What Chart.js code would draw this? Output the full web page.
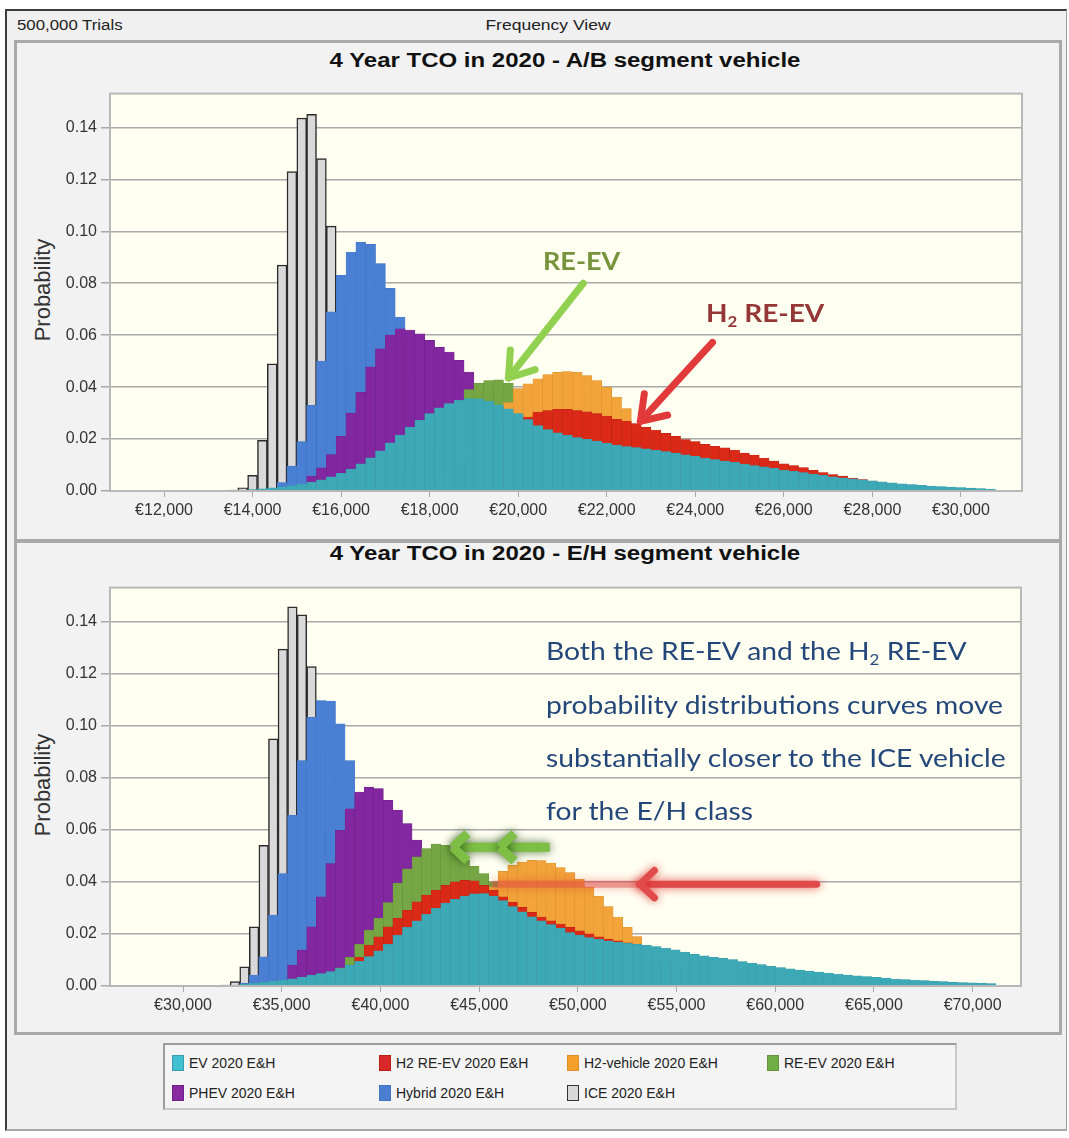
<!DOCTYPE html>
<html>
<head>
<meta charset="utf-8">
<title>4 Year TCO in 2020</title>
<script src="https://cdn.jsdelivr.net/npm/chart.js@4.4.0/dist/chart.umd.min.js"></script>
<style>
  html, body { margin: 0; padding: 0; background: #fff; }
  body { position: relative; width: 1069px; height: 1138px; overflow: hidden; font-family: 'Liberation Sans', Arial, sans-serif; color: #222; }
  .abs { position: absolute; }
  .window { left: 5px; top: 9px; width: 1059px; height: 1118px; background: #f0f0f0; border-left: 2px solid #3c3c3c; border-top: 2px solid #3c3c3c; border-right: 1px solid #a0a0a0; border-bottom: 2px solid #a8a8a8; }
  .panel { left: 14px; top: 40px; width: 1048px; height: 995px; box-sizing: border-box; border: 3px solid #a9a9a9; background: #f2f2f2; }
  .divider { left: 14px; top: 539px; width: 1048px; height: 4px; background: #a9a9a9; }
  .small { font-size: 14px; transform-origin: 0 50%; transform: translateY(-50%) scaleX(1.2); white-space: nowrap; }
  .centre { transform-origin: 50% 50%; transform: translate(-50%, -50%) scaleX(1.25); }
  .title { font-weight: bold; font-size: 20px; transform: translate(-50%, -50%) scaleX(1.2); white-space: nowrap; color: #111; }
  .ytitle { font-size: 22px; color: #333; transform: translate(-50%, -50%) rotate(-90deg); white-space: nowrap; }
  canvas.plot { position: absolute; left: 20px; }
  .note { font-family: Lato, 'Open Sans', sans-serif; font-weight: bold; font-size: 25px; transform-origin: 0 50%; transform: translateY(-50%) scaleX(1.08); white-space: nowrap; }
  .para { font-family: Lato, 'Open Sans', sans-serif; font-size: 25px; color: #24477a; transform-origin: 0 50%; transform: translateY(-50%) scaleX(1.13); white-space: nowrap; }
  sub { font-size: 60%; vertical-align: -0.3em; line-height: 0; }
  .legendbox { left: 163px; top: 1043px; width: 794px; height: 67px; box-sizing: border-box; border: 2px solid #9c9c9c; border-right-color: #c8c8c8; border-bottom-color: #c8c8c8; background: #f4f4f4; }
  #legend { position: absolute; left: 7px; top: 9px; display: grid; grid-template-columns: 207px 188px 200px 180px; row-gap: 12px; }
  #legend .item { display: flex; align-items: center; font-size: 14px; color: #222; white-space: nowrap; height: 18px; }
  #legend .sw { display: inline-block; width: 12px; height: 16px; margin-right: 5px; border: 1px solid; box-sizing: border-box; }
</style>
</head>
<body>
<div class="abs window"></div>
<div class="abs small" style="left:17px;top:25px">500,000 Trials</div>
<div class="abs small centre" style="left:548px;top:25px">Frequency View</div>
<div class="abs panel"></div>
<div class="abs divider"></div>

<div class="abs title" style="left:565px;top:60px">4 Year TCO in 2020 - A/B segment vehicle</div>
<div class="abs title" style="left:565px;top:553px">4 Year TCO in 2020 - E/H segment vehicle</div>
<div class="abs ytitle" style="left:43px;top:290px">Probability</div>
<div class="abs ytitle" style="left:43px;top:785px">Probability</div>

<canvas id="topChart" class="plot" width="1030" height="455" style="top:80px"></canvas>
<canvas id="botChart" class="plot" width="1030" height="455" style="top:574px"></canvas>

<div class="abs note" style="left:543px;top:260px;color:#77933c">RE-EV</div>
<div class="abs note" style="left:706px;top:312px;color:#953735;transform:translateY(-50%) scaleX(1.12)">H<sub>2</sub> RE-EV</div>
<div class="abs para" style="left:546px;top:650px">Both the RE-EV and the H<sub>2</sub> RE-EV</div>
<div class="abs para" style="left:546px;top:704px">probability distributions curves move</div>
<div class="abs para" style="left:546px;top:757px">substantially closer to the ICE vehicle</div>
<div class="abs para" style="left:546px;top:810px">for the E/H class</div>

<div class="abs legendbox"><div id="legend"></div></div>

<script>
// series, front to back (same order as the legend)
const seriesNames = ['EV 2020 E&H', 'H2 RE-EV 2020 E&H', 'H2-vehicle 2020 E&H', 'RE-EV 2020 E&H',
                     'PHEV 2020 E&H', 'Hybrid 2020 E&H', 'ICE 2020 E&H'];

// A/B segment: bins of 2000/9 euro, first bin centred on 13,333
const topFirstBin = 13333.33;
const topBinWidth = 2000 / 9;
const topEV = [0, 0, 0.0002, 0.0005, 0.0008, 0.0012, 0.0016, 0.0021, 0.0027, 0.0034,
  0.0043, 0.0055, 0.0068, 0.0084, 0.0105, 0.0128, 0.0155, 0.0185, 0.0215, 0.0245,
  0.0272, 0.0298, 0.032, 0.0337, 0.0349, 0.0356, 0.0355, 0.0345, 0.0332, 0.0316,
  0.0298, 0.0275, 0.0252, 0.0236, 0.0224, 0.0214, 0.0206, 0.0199, 0.0192, 0.0184,
  0.0177, 0.0171, 0.0167, 0.0162, 0.0157, 0.0152, 0.0146, 0.0139, 0.0133, 0.0127,
  0.0121, 0.0115, 0.011, 0.0104, 0.0098, 0.0093, 0.0087, 0.0081, 0.0076, 0.0071,
  0.0065, 0.006, 0.0055, 0.0051, 0.0047, 0.0043, 0.0039, 0.0035, 0.0031, 0.0028,
  0.0025, 0.0022, 0.0019, 0.0017, 0.0015, 0.0013, 0.0011, 0.0009, 0.0007];
const topH2REEV = [0, 0, 0, 0, 0, 0, 0, 0, 0, 0,
  0, 0, 0, 0, 0, 0, 0, 0, 0, 0.001,
  0.002, 0.003, 0.005, 0.007, 0.009, 0.012, 0.015, 0.018, 0.021, 0.024,
  0.027, 0.0285, 0.0304, 0.031, 0.0314, 0.0314, 0.031, 0.0305, 0.0298, 0.0288,
  0.0276, 0.0268, 0.026, 0.0245, 0.0235, 0.0222, 0.021, 0.0198, 0.019, 0.018,
  0.0172, 0.0166, 0.0158, 0.0146, 0.0138, 0.0127, 0.0115, 0.0105, 0.0098, 0.009,
  0.008, 0.0071, 0.0063, 0.0057, 0.005, 0.0044, 0.0038, 0.003, 0.0025, 0.002,
  0.0015, 0.001, 0.0007];
const topH2 = [0, 0, 0, 0, 0, 0, 0, 0, 0, 0,
  0, 0, 0, 0, 0, 0, 0, 0, 0, 0,
  0, 0.003, 0.005, 0.008, 0.011, 0.015, 0.019, 0.024, 0.029, 0.034,
  0.0394, 0.0413, 0.0432, 0.0448, 0.0457, 0.046, 0.0457, 0.0444, 0.0425, 0.040,
  0.0362, 0.0317, 0.025, 0.02, 0.015, 0.010, 0.006, 0.003, 0.001];
const topREEV = [0, 0, 0, 0, 0, 0, 0, 0, 0, 0,
  0, 0, 0, 0, 0, 0, 0, 0.002, 0.004, 0.007,
  0.011, 0.016, 0.022, 0.028, 0.034, 0.039, 0.0415, 0.0425, 0.0428, 0.0415,
  0.037, 0.033, 0.028, 0.023, 0.018, 0.013, 0.009, 0.006, 0.004, 0.002,
  0.001];
const topPHEV = [0, 0, 0, 0, 0, 0, 0, 0, 0.0015, 0.0057,
  0.0089, 0.014, 0.021, 0.030, 0.038, 0.0478, 0.0547, 0.060, 0.0624, 0.062,
  0.0605, 0.058, 0.0554, 0.0535, 0.0503, 0.0458, 0.0413, 0.037, 0.033, 0.029,
  0.025, 0.021, 0.018, 0.015, 0.012, 0.010, 0.008, 0.006, 0.005, 0.004,
  0.003, 0.002, 0.001];
const topHybrid = [0, 0, 0, 0, 0, 0.001, 0.0032, 0.0096, 0.019, 0.033,
  0.050, 0.069, 0.083, 0.092, 0.0957, 0.095, 0.0876, 0.078, 0.067, 0.056,
  0.045, 0.035, 0.026, 0.019, 0.013, 0.008, 0.005, 0.003, 0.0015, 0.0008];
const topICE = [0, 0.0004, 0.0012, 0.006, 0.0195, 0.049, 0.087, 0.123, 0.1436, 0.145,
  0.128, 0.102, 0.073, 0.047, 0.027, 0.014, 0.006, 0.002, 0.001];

// E/H segment: bins of 485 euro, first bin centred on 32,145
const botFirstBin = 32145;
const botBinWidth = 485;
const botEV = [0, 0.0003, 0.0006, 0.001, 0.0014, 0.0018, 0.0023, 0.0028, 0.0034, 0.0041,
  0.0048, 0.0055, 0.0067, 0.008, 0.0095, 0.0113, 0.0135, 0.016, 0.0195, 0.0225,
  0.025, 0.0275, 0.0298, 0.0318, 0.0333, 0.0345, 0.0354, 0.0355, 0.0345, 0.0328,
  0.0305, 0.0285, 0.0266, 0.025, 0.0236, 0.0222, 0.0205, 0.0195, 0.0186, 0.0179,
  0.0173, 0.0168, 0.0164, 0.016, 0.0156, 0.0151, 0.0146, 0.0139, 0.013, 0.0122,
  0.0116, 0.0111, 0.0106, 0.0101, 0.0094, 0.0088, 0.0082, 0.0076, 0.0071, 0.0066,
  0.0061, 0.0057, 0.0053, 0.005, 0.0046, 0.0042, 0.0039, 0.0036, 0.0033, 0.003,
  0.0027, 0.0025, 0.0023, 0.0021, 0.0019, 0.0017, 0.0015, 0.0013, 0.0012, 0.001,
  0.0009];
const botH2REEV = [0, 0, 0, 0, 0, 0, 0, 0, 0, 0,
  0, 0.002, 0.0035, 0.006, 0.011, 0.0157, 0.0189, 0.0227, 0.026, 0.0291,
  0.0323, 0.0349, 0.0368, 0.0387, 0.040, 0.0406, 0.0404, 0.0387, 0.0368, 0.0342,
  0.0322, 0.0302, 0.0283, 0.0265, 0.025, 0.0238, 0.0225, 0.0212, 0.02, 0.0189,
  0.018, 0.0173, 0.0166, 0.0152, 0.013, 0.011, 0.009, 0.007, 0.005, 0.003,
  0.002, 0.001];
const botH2 = [0, 0, 0, 0, 0, 0, 0, 0, 0, 0,
  0, 0, 0, 0, 0, 0, 0, 0, 0.001, 0.002,
  0.004, 0.006, 0.009, 0.013, 0.017, 0.022, 0.027, 0.032, 0.038, 0.044,
  0.0464, 0.0476, 0.0483, 0.0482, 0.0472, 0.0455, 0.0436, 0.041, 0.038, 0.0345,
  0.0305, 0.0265, 0.0225, 0.019, 0.015, 0.011, 0.008, 0.005, 0.003, 0.0015];
const botREEV = [0, 0, 0, 0, 0, 0, 0, 0, 0, 0.001,
  0.002, 0.004, 0.007, 0.011, 0.016, 0.0215, 0.026, 0.032, 0.0395, 0.045,
  0.0496, 0.0528, 0.0545, 0.054, 0.0521, 0.0483, 0.046, 0.0432, 0.040, 0.036,
  0.031, 0.026, 0.021, 0.016, 0.012, 0.008, 0.005, 0.003, 0.001];
const botPHEV = [0, 0, 0, 0, 0, 0.0003, 0.002, 0.008, 0.0138, 0.0227,
  0.0342, 0.047, 0.0598, 0.068, 0.0745, 0.0764, 0.0758, 0.0713, 0.0675, 0.0624,
  0.056, 0.050, 0.044, 0.038, 0.032, 0.027, 0.022, 0.018, 0.014, 0.011,
  0.008, 0.006, 0.004, 0.003, 0.002, 0.001];
const botHybrid = [0, 0, 0.001, 0.0042, 0.0112, 0.0272, 0.0432, 0.0655, 0.0866, 0.1032,
  0.1096, 0.1094, 0.1007, 0.0866, 0.071, 0.057, 0.044, 0.033, 0.024, 0.016,
  0.010, 0.006, 0.003, 0.001];
const botICE = [0.0004, 0.0017, 0.0074, 0.0227, 0.054, 0.0949, 0.1294, 0.1456, 0.1425, 0.1227,
  0.09, 0.06, 0.035, 0.018, 0.008, 0.003, 0.001];

// axis ticks
const topTicks = [12000, 14000, 16000, 18000, 20000, 22000, 24000, 26000, 28000, 30000];
const botTicks = [30000, 35000, 40000, 45000, 50000, 55000, 60000, 65000, 70000];
const probTicks = [0, 0.02, 0.04, 0.06, 0.08, 0.10, 0.12, 0.14];

// styles
const seriesFill = ['#3da8b6', '#da2a17', '#f2a33a', '#76a744', '#82279f', '#4a80d4', '#d9d9d9'];
const seriesEdge = ['#389eab', '#b82214', '#d98f2b', '#66943a', '#6e2089', '#4373c4', '#2b2b2b'];
const legendFill = ['#40c0d0', '#d9282a', '#f5a02a', '#6fad45', '#8a2aa0', '#4a7fd0', '#d8d8d8'];

function binCentres(first, width, count) {
  const out = [];
  for (let i = 0; i < count; i++) out.push(first + i * width);
  return out;
}

const plotFrame = {
  id: 'plotFrame',
  beforeDraw(chart) {
    const {ctx, chartArea: a} = chart;
    ctx.save();
    ctx.fillStyle = '#fffff2';
    ctx.fillRect(a.left, a.top, a.right - a.left, a.bottom - a.top);
    ctx.restore();
  },
  afterDraw(chart) {
    const {ctx, chartArea: a} = chart;
    ctx.save();
    ctx.strokeStyle = '#b8b8b8';
    ctx.lineWidth = 2;
    ctx.strokeRect(a.left, a.top, a.right - a.left, a.bottom - a.top);
    ctx.restore();
  }
};

// arrows placed in data coordinates (euro, probability)
const arrowPlugin = {
  id: 'arrows',
  afterDatasetsDraw(chart, args, opts) {
    const ctx = chart.ctx, xs = chart.scales.x, ys = chart.scales.y;
    const px = p => [xs.getPixelForValue(p[0]), ys.getPixelForValue(p[1])];
    (opts.items || []).forEach(a => {
      const [x1, y1] = px(a.from), [x2, y2] = px(a.to);
      const len = Math.hypot(x2 - x1, y2 - y1);
      const ux = (x2 - x1) / len, uy = (y2 - y1) / len;
      ctx.save();
      ctx.lineCap = a.cap || 'round';
      ctx.lineJoin = 'round';
      ctx.strokeStyle = a.color;
      ctx.lineWidth = a.width;
      if (a.glow) { ctx.shadowColor = a.glow; ctx.shadowBlur = 10; }
      const stop = a.fadeFrom ? px(a.fadeFrom) : [x2, y2];
      ctx.beginPath();
      ctx.moveTo(x1, y1);
      ctx.lineTo(stop[0], stop[1]);
      ctx.stroke();
      if (a.fadeFrom) {
        ctx.globalAlpha = 0.45;
        ctx.beginPath();
        ctx.moveTo(stop[0], stop[1]);
        ctx.lineTo(x2, y2);
        ctx.stroke();
        ctx.globalAlpha = 1;
      }
      (a.heads || [a.to]).forEach(h => {
        const [hx, hy] = px(h);
        ctx.beginPath();
        [1, -1].forEach(s => {
          const c = Math.cos(a.spread), sn = Math.sin(a.spread) * s;
          const bx = ux * c - uy * sn, by = uy * c + ux * sn;
          ctx.moveTo(hx, hy);
          ctx.lineTo(hx - bx * a.head, hy - by * a.head);
        });
        ctx.stroke();
      });
      ctx.restore();
    });
  }
};

function makeChart(id, labels, series, xMin, xMax, xTicks, xAxisHeight, rightPad, arrows) {
  const datasets = series.map((data, i) => ({
    label: seriesNames[i],
    data: data,
    backgroundColor: seriesFill[i],
    borderColor: seriesEdge[i],
    borderWidth: i === 6 ? {top: 1.5, left: 1.5, right: 1.5, bottom: 0} : {top: 0.5, left: 0.5, right: 0.5, bottom: 0},
    borderSkipped: false,
    grouped: false,
    categoryPercentage: 1,
    barPercentage: 1
  }));

  return new Chart(document.getElementById(id), {
    type: 'bar',
    data: { labels: labels, datasets: datasets },
    plugins: [plotFrame, arrowPlugin],
    options: {
      responsive: false,
      animation: false,
      events: [],
      layout: { padding: { left: 0, right: rightPad, top: 12.7, bottom: 0 } },
      plugins: {
        legend: { display: false },
        tooltip: { enabled: false },
        arrows: { items: arrows }
      },
      scales: {
        x: {
          type: 'linear',
          min: xMin,
          max: xMax,
          offset: false,
          afterBuildTicks: s => { s.ticks = xTicks.map(v => ({ value: v })); },
          afterFit: s => { s.height = xAxisHeight; },
          grid: { offset: false, drawOnChartArea: false, color: '#a8a8a8', tickLength: 6 },
          border: { display: false },
          ticks: {
            autoSkip: false,
            maxRotation: 0,
            padding: 4,
            color: '#333',
            font: { family: 'Liberation Sans', size: 16 },
            callback: v => '\u20ac' + Number(v).toLocaleString('en-US')
          }
        },
        y: {
          min: 0,
          max: 0.153,
          afterBuildTicks: s => { s.ticks = probTicks.map(v => ({ value: v })); },
          afterFit: s => { s.width = 90; },
          grid: { color: '#a9a9a9', lineWidth: 1.5, tickLength: 9 },
          border: { display: false },
          ticks: {
            padding: 4,
            color: '#333',
            font: { family: 'Liberation Sans', size: 16 },
            callback: v => Number(v).toFixed(2)
          }
        }
      }
    }
  });
}

const topArrows = [
  { from: [21470, 0.080], to: [19780, 0.0435], color: '#92d050', width: 7, head: 28, spread: 0.6 },
  { from: [24390, 0.0572], to: [22760, 0.0268], color: '#e23a3a', width: 7, head: 28, spread: 0.6 }
];
const botArrows = [
  { from: [48580, 0.0533], to: [43670, 0.0533], heads: [[43670, 0.0533], [46050, 0.0533]],
    color: '#7dbf45', width: 9, head: 20, spread: 0.75, cap: 'butt', glow: 'rgba(30,70,10,0.75)' },
  { from: [62100, 0.0391], to: [45800, 0.0391], heads: [[53140, 0.0391]], fadeFrom: [53140, 0.0391],
    color: '#e04a4a', width: 7, head: 20, spread: 0.75, glow: 'rgba(220,40,40,0.8)' }
];

const topChart = makeChart('topChart',
  binCentres(topFirstBin, topBinWidth, 80),
  [topEV, topH2REEV, topH2, topREEV, topPHEV, topHybrid, topICE],
  10780, 31380, topTicks, 44, 28, topArrows);

const botChart = makeChart('botChart',
  binCentres(botFirstBin, botBinWidth, 82),
  [botEV, botH2REEV, botH2, botREEV, botPHEV, botHybrid, botICE],
  26300, 72450, botTicks, 43, 29, botArrows);

// shared legend under both charts
const legend = document.getElementById('legend');
botChart.data.datasets.forEach((ds, i) => {
  const item = document.createElement('div');
  item.className = 'item';
  const sw = document.createElement('span');
  sw.className = 'sw';
  sw.style.background = legendFill[i];
  sw.style.borderColor = i === 6 ? '#333' : seriesEdge[i];
  item.appendChild(sw);
  item.appendChild(document.createTextNode(ds.label));
  legend.appendChild(item);
});
</script>
</body>
</html>
